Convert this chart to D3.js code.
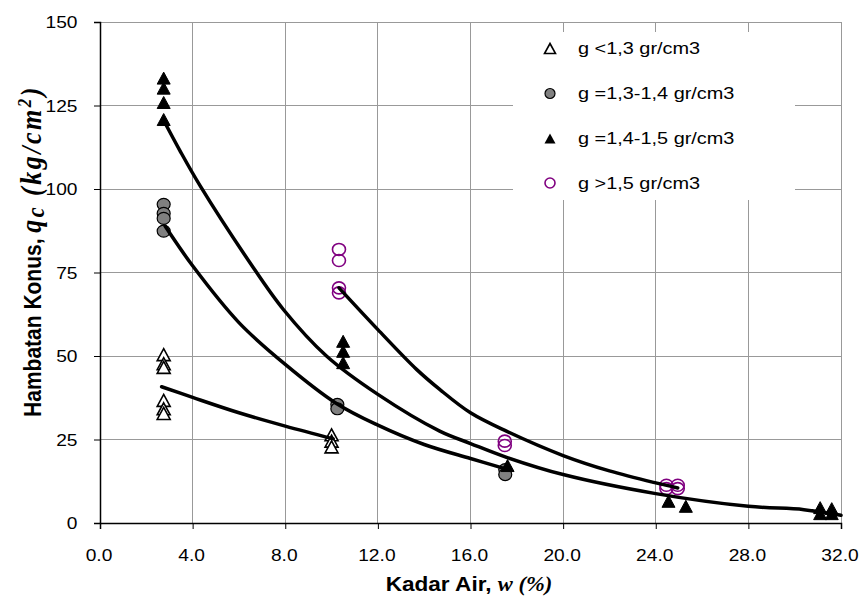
<!DOCTYPE html>
<html>
<head>
<meta charset="utf-8">
<script src="https://cdn.jsdelivr.net/npm/d3@7"></script>
<style>
  html, body { margin: 0; padding: 0; background: #fff; }
  svg { display: block; }
</style>
</head>
<body>
<svg id="chart" width="859" height="606"></svg>
<script>
// ---------------- DATA ----------------
const xTickValues = [0, 4, 8, 12, 16, 20, 24, 28, 32];
const yTickValues = [0, 25, 50, 75, 100, 125, 150];

const seriesNames = ["g <1,3 gr/cm3", "g =1,3-1,4 gr/cm3", "g =1,4-1,5 gr/cm3", "g >1,5 gr/cm3"];

// g < 1,3 (open triangles)
const s1x = [2.75, 2.75, 2.75, 2.75, 2.75, 2.75, 10.0, 10.0, 10.0];
const s1y = [50.4, 47.7, 46.6, 36.7, 34.2, 32.8, 26.4, 24.5, 22.8];

// g = 1,3-1,4 (grey circles)
const s2x = [2.75, 2.75, 2.75, 2.75, 10.25, 10.25, 17.5, 17.5];
const s2y = [95.4, 92.7, 91.2, 87.4, 35.5, 34.2, 16.0, 14.5];

// g = 1,4-1,5 (black triangles)
const s3x = [2.75, 2.75, 2.75, 2.75, 10.5, 10.5, 10.5, 17.6, 24.55, 25.3, 31.1, 31.1, 31.6, 31.6];
const s3y = [133.2, 130.2, 125.9, 120.8, 54.4, 51.4, 48.0, 17.2, 6.5, 5.0, 4.6, 2.8, 4.3, 2.8];

// g > 1,5 (open purple circles)
const s4x = [10.32, 10.32, 10.32, 10.32, 17.48, 17.48, 24.46, 24.46, 24.95, 24.95];
const s4y = [81.9, 78.6, 70.4, 68.9, 24.5, 23.2, 11.3, 10.3, 11.3, 10.3];

// trend curves, points
const c1x = [2.66, 4.0, 6.0, 8.0, 10.07];
const c1y = [40.8, 37.6, 33.0, 29.0, 25.2];

const c2x = [2.81, 4.0, 6.0, 8.0, 10.21, 12.0, 14.0, 16.0, 17.48];
const c2y = [88.9, 77.0, 60.0, 47.5, 35.8, 29.3, 23.5, 19.3, 16.3];

const c3x = [2.73, 3.45, 4.32, 6.47, 7.91, 9.78, 12.0, 14.67, 16.0, 17.5, 20.0, 24.0, 28.0, 30.4, 32.0];
const c3y = [120.8, 111.5, 101.0, 78.0, 64.0, 50.0, 38.5, 27.5, 23.8, 19.8, 14.5, 8.8, 5.0, 4.0, 2.3];

const c4x = [10.32, 12.0, 13.67, 14.67, 16.0, 17.55, 20.0, 22.0, 24.0, 24.95];
const c4y = [70.4, 57.9, 46.0, 40.0, 33.0, 27.5, 20.2, 15.6, 12.0, 10.5];

// ---------------- DRAW ----------------
const svg = d3.select("#chart");
const L = 100, R = 841, T = 22, B = 523;
const SX = 1.13; // horizontal stretch of the text in the reference

const x = d3.scaleLinear().domain([0, 32]).range([L, R]);
const y = d3.scaleLinear().domain([0, 150]).range([B, T]);

const zip = (a, b) => a.map((v, i) => [v, b[i]]);

// gridlines
const grid = svg.append("g");
grid.selectAll("line.h").data(yTickValues.filter(d => d > 0)).join("line")
  .attr("x1", L).attr("x2", R).attr("y1", d => y(d)).attr("y2", d => y(d))
  .attr("stroke", "#999").attr("stroke-width", 1).attr("shape-rendering", "crispEdges");
grid.selectAll("line.v").data(xTickValues.filter(d => d > 0)).join("line")
  .attr("x1", d => x(d)).attr("x2", d => x(d)).attr("y1", T).attr("y2", B)
  .attr("stroke", "#999").attr("stroke-width", 1).attr("shape-rendering", "crispEdges");

// legend background (covers gridlines)
svg.append("rect").attr("x", 513).attr("y", 32).attr("width", 282).attr("height", 168).attr("fill", "#fff");

// axes
const xAxis = svg.append("g").attr("transform", `translate(0,${B})`)
  .call(d3.axisBottom(x).tickValues(xTickValues).tickFormat(d3.format(".1f")).tickSizeOuter(0).tickSize(6));
const yAxis = svg.append("g").attr("transform", `translate(${L},0)`)
  .call(d3.axisLeft(y).tickValues(yTickValues).tickSizeOuter(0).tickSize(6));

[xAxis, yAxis].forEach(a => {
  a.select(".domain").attr("stroke", "#000").attr("stroke-width", 1.5);
  a.selectAll(".tick line").attr("stroke", "#000").attr("stroke-width", 1);
  a.selectAll("text").attr("font-family", "Liberation Sans, Arial, sans-serif")
    .attr("font-size", 17).attr("fill", "#000");
});
xAxis.selectAll(".tick text").attr("y", 0).attr("dy", 0)
  .attr("transform", "translate(-1.5,38) scale(" + SX + ",1)");
yAxis.selectAll(".tick text").attr("x", 0).attr("dy", "0.35em")
  .attr("text-anchor", "end")
  .attr("transform", "translate(-22.5,0) scale(" + SX + ",1)");

// trend curves
const line = d3.line().x(d => x(d[0])).y(d => y(d[1])).curve(d3.curveCatmullRom.alpha(0.5));
const curves = [zip(c1x, c1y), zip(c2x, c2y), zip(c3x, c3y), zip(c4x, c4y)];

// markers
const triPath = (w, h) => `M0,${-h / 2}L${w / 2},${h / 2}L${-w / 2},${h / 2}Z`;

function drawOpenTri(g, pts) {
  g.selectAll(null).data(pts).join("path")
    .attr("d", triPath(13, 12))
    .attr("transform", d => `translate(${x(d[0])},${y(d[1])})`)
    .attr("fill", "#fff").attr("stroke", "#000").attr("stroke-width", 1.6);
}
function drawGreyCircle(g, pts) {
  g.selectAll(null).data(pts).join("ellipse")
    .attr("cx", d => x(d[0])).attr("cy", d => y(d[1])).attr("rx", 6.5).attr("ry", 6)
    .attr("fill", "#808080").attr("stroke", "#000").attr("stroke-width", 1.2);
}
function drawBlackTri(g, pts) {
  g.selectAll(null).data(pts).join("path")
    .attr("d", triPath(13, 12))
    .attr("transform", d => `translate(${x(d[0])},${y(d[1])})`)
    .attr("fill", "#000").attr("stroke", "#000").attr("stroke-width", 1);
}
function drawPurpleCircle(g, pts) {
  g.selectAll(null).data(pts).join("ellipse")
    .attr("cx", d => x(d[0])).attr("cy", d => y(d[1])).attr("rx", 6.5).attr("ry", 6)
    .attr("fill", "none").attr("stroke", "#800080").attr("stroke-width", 1.6);
}

const marks = svg.append("g");
drawOpenTri(marks.append("g"), zip(s1x, s1y));
drawGreyCircle(marks.append("g"), zip(s2x, s2y));
drawBlackTri(marks.append("g"), zip(s3x, s3y));
drawPurpleCircle(marks.append("g"), zip(s4x, s4y));

svg.append("g").selectAll("path").data(curves).join("path")
  .attr("d", line).attr("fill", "none").attr("stroke", "#000")
  .attr("stroke-width", 3.5).attr("stroke-linejoin", "round").attr("stroke-linecap", "round");

// legend
const legRows = [48.5, 93.5, 138.5, 183];
const leg = svg.append("g");
const drawers = [
  (g) => g.append("path").attr("d", triPath(11, 10)).attr("fill", "#fff").attr("stroke", "#000").attr("stroke-width", 1.6),
  (g) => g.append("circle").attr("r", 5).attr("fill", "#808080").attr("stroke", "#000").attr("stroke-width", 1.2),
  (g) => g.append("path").attr("d", triPath(11, 10)).attr("fill", "#000"),
  (g) => g.append("circle").attr("r", 5).attr("fill", "none").attr("stroke", "#800080").attr("stroke-width", 1.6)
];
seriesNames.forEach((name, i) => {
  const g = leg.append("g").attr("transform", `translate(550,${legRows[i]})`);
  drawers[i](g);
  leg.append("text")
    .attr("transform", `translate(578,${legRows[i]}) scale(1.17,1)`)
    .attr("dy", "0.35em")
    .attr("font-family", "Liberation Sans, Arial, sans-serif").attr("font-size", 17)
    .text(name);
});

// x title
const xt = svg.append("text")
  .attr("transform", `translate(469,591) scale(${SX},1)`)
  .attr("text-anchor", "middle").attr("font-size", 20).attr("fill", "#000");
xt.append("tspan").attr("font-family", "Liberation Sans, Arial, sans-serif").attr("font-weight", "bold").text("Kadar Air, ");
xt.append("tspan").attr("font-family", "Liberation Serif, Times New Roman, serif").attr("font-weight", "bold").attr("font-style", "italic").text("w (%)");

// y title
const yt = svg.append("text")
  .attr("transform", `translate(41,251) scale(${SX},1) rotate(-90)`)
  .attr("text-anchor", "middle").attr("font-size", 21).attr("fill", "#000");
yt.append("tspan").attr("font-family", "Liberation Sans, Arial, sans-serif").attr("font-weight", "bold").text("Hambatan Konus, ");
const serif = "Liberation Serif, Times New Roman, serif";
const it = (t, size, dy) => yt.append("tspan").attr("font-family", serif).attr("font-weight", "bold")
  .attr("font-style", "italic").attr("font-size", size).attr("letter-spacing", 2.5).attr("dy", dy).text(t);
it("q", 26, 0);
it("c", 22, 3);
it(" (kg/cm", 26, -3);
it("2", 17, -9);
it(")", 26, 9);
</script>
</body>
</html>
